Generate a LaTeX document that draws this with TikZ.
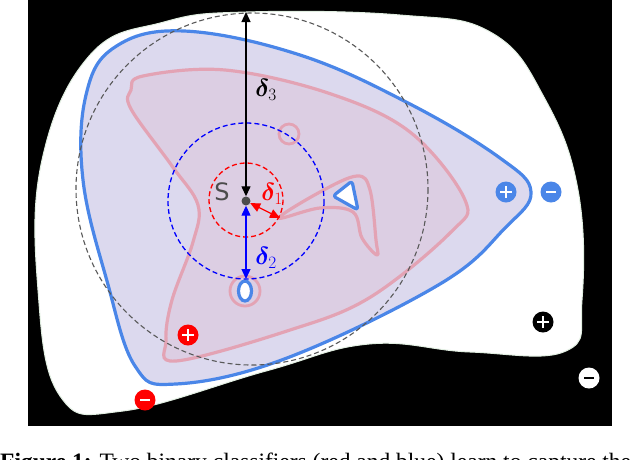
\documentclass[tikz,border=0pt]{standalone}
\usepackage{bm}
\usepackage{fontspec}
\newfontfamily\capfont{Liberation Serif}
\newfontfamily\sfont{DejaVu Sans}
\usetikzlibrary{arrows.meta,calc}
\definecolor{bline}{HTML}{4A86E8}
\definecolor{bfill}{HTML}{DCD9EE}
\definecolor{rline}{HTML}{E3A3B4}
\definecolor{rfill}{HTML}{DCC8DC}
\tikzset{
  sign/.style={circle,minimum size=21pt,inner sep=0pt},
  pluss/.style={draw=#1,line width=2.8pt,line cap=butt},
  lab/.style={font=\fontsize{25}{25}\selectfont},
  dbl/.style={{Triangle[length=10pt,width=9pt]}-{Triangle[length=10pt,width=9pt]},line width=1.3pt}
}
\newcommand{\plusmark}[2]{\draw[pluss=#2] ($(#1)+(-6,0)$)--($(#1)+(6,0)$) ($(#1)+(0,-6)$)--($(#1)+(0,6)$);}
\newcommand{\minusmark}[2]{\draw[pluss=#2] ($(#1)+(-5,0)$)--($(#1)+(5,0)$);}
\begin{document}
\begin{tikzpicture}[x=1pt,y=-1pt]
\useasboundingbox (0,0) rectangle (640,459);
\fill[white] (0,0) rectangle (640,459);
\fill[black] (28,0) rectangle (612,426);
% white blob
\draw[fill=white,draw={rgb,255:red,225;green,238;blue,225},line width=1pt] plot[smooth cycle,tension=0.7] coordinates{
 (246,12) (400,15) (492,33) (545,99) (578,190) (582,300) (566,351) (470,352) (369,344) (266,371) (123,411) (60,396) (38,290) (42,160) (90,55) (164,22)};
% blue region
\draw[fill=bfill,draw=bline,line width=3.2pt] plot[smooth cycle,tension=0.65] coordinates{
 (184,31) (300,55) (410,104) (500,158) (531,192) (505,228) (440,284) (287,358) (176,384) (135,366) (107,281) (83,180) (86,95) (115,47)};
% red region
\draw[fill=rfill,fill opacity=0.6,draw=rline,line width=3.2pt] plot[smooth cycle,tension=0.6] coordinates{
 (143,76) (225,70) (328,93) (410,132) (465,200) (451,232) (369,298) (287,331) (176,361) (166,340) (172,300) (193,242) (198,205) (172,166) (131,109) (131,90)};
% spur loop
\draw[draw=rline,line width=3.2pt,line join=round] plot[smooth cycle,tension=0.6] coordinates{
 (279,218) (320,192) (357,176) (370,190) (376,240) (377,255) (362,238) (353,212) (320,208)};
% blue triangle
\draw[fill=white,draw=bline,line width=3.2pt,line join=round,rounded corners=3pt] (333,196) -- (352,181) -- (358,210) -- cycle;
% small red circle
\draw[draw=rline,line width=2.8pt] (289,134) circle (10);
% blue hole with red ring
\draw[draw=rline,line width=2.8pt] (245,291) circle (15);
\draw[fill=white,draw=bline,line width=3.2pt] (245,291) ellipse (6.5 and 10);
% dashed circles
\draw[dash pattern=on 5pt off 3pt,gray!70!black,line width=1.1pt] (252,189) circle (176);
\draw[dash pattern=on 5pt off 3pt,blue,line width=1.3pt] (246,201) circle (78);
\draw[dash pattern=on 5pt off 3pt,red,line width=1.3pt] (246,200) circle (37);
% S point
\node[circle,fill=black!70,minimum size=9pt,inner sep=0pt] (S) at (246,201) {};
\coordinate (top) at (246,12);
\coordinate (r1) at (280,218);
\coordinate (b2) at (246,279);
\draw[dbl,black] (top) -- (S.north);
\draw[dbl,red] (S) -- (r1);
\draw[dbl,blue] (S.south) -- (b2);
\node[font=\sfont\fontsize{24}{24}\selectfont,text=black!70] (Sl) at (222,192) {S};
\node[lab] (d3) at (266,90) {$\bm{\delta}_3$};
\node[lab,text=red] (d1) at (272,194) {$\bm{\delta}_1$};
\node[lab,text=blue] (d2) at (266,258) {$\bm{\delta}_2$};
% signs
\node[sign,fill=red] (rp) at (188,335) {}; \plusmark{rp}{white}
\node[sign,fill=red] (rm) at (145,400) {}; \minusmark{rm}{white}
\node[sign,fill=bline] (bp) at (506,192) {}; \plusmark{bp}{white}
\node[sign,fill=bline] (bm) at (551,192) {}; \minusmark{bm}{white}
\node[sign,fill=black] (kp) at (543,322) {}; \plusmark{kp}{white}
\node[sign,fill=white] (km) at (589,378) {}; \minusmark{km}{black}
% caption
\begin{scope}
\clip (0,0) rectangle (640,459);
\node[anchor=base west,inner sep=0pt,font=\capfont\fontsize{23.5}{24}\selectfont] (cap) at (0,469) {\textbf{Figure 1:} Two binary classifiers (red and blue) learn to capture the};
\end{scope}
\end{tikzpicture}
\end{document}
